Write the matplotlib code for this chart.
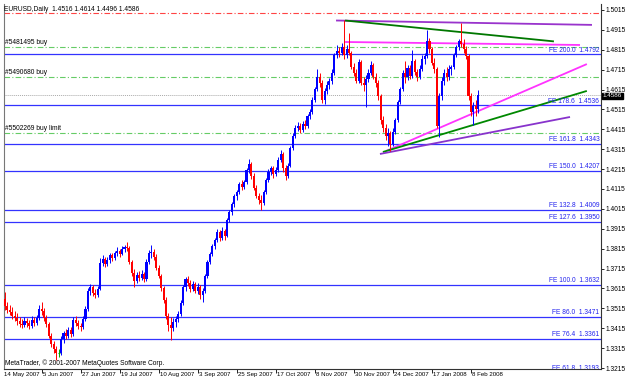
import matplotlib
matplotlib.use("Agg")
import matplotlib.pyplot as plt
import matplotlib.transforms as mtransforms

plt.rcParams['font.family'] = ['Liberation Sans', 'DejaVu Sans']

# ---------------- data (daily EURUSD bars, bar index 0 = 14 May 2007) ----------------
opens = [1.3520,1.3560,1.3525,1.3505,1.3495,1.3475,1.3465,1.3450,1.3435,1.3430,
         1.3450,1.3440,1.3425,1.3455,1.3440,1.3465,1.3510,1.3500,1.3465,1.3435,
         1.3375,1.3335,1.3310,1.3290,1.3290,1.3360,1.3390,1.3375,1.3405,1.3385,
         1.3455,1.3440,1.3425,1.3420,1.3460,1.3510,1.3600,1.3620,1.3590,1.3580,
         1.3610,1.3745,1.3765,1.3740,1.3760,1.3785,1.3770,1.3795,1.3805,1.3790,
         1.3815,1.3825,1.3820,1.3750,1.3695,1.3650,1.3685,1.3665,1.3690,1.3660,
         1.3750,1.3795,1.3800,1.3775,1.3720,1.3680,1.3615,1.3555,1.3475,1.3430,
         1.3415,1.3445,1.3460,1.3485,1.3540,1.3620,1.3660,1.3640,1.3610,1.3635,
         1.3600,1.3620,1.3580,1.3600,1.3680,1.3750,1.3790,1.3830,1.3860,1.3900,
         1.3870,1.3905,1.3880,1.3960,1.4000,1.4040,1.4080,1.4100,1.4140,1.4125,
         1.4150,1.4210,1.4240,1.4180,1.4120,1.4080,1.4060,1.4045,1.4100,1.4160,
         1.4200,1.4220,1.4190,1.4210,1.4260,1.4290,1.4220,1.4180,1.4230,1.4320,
         1.4380,1.4420,1.4430,1.4410,1.4440,1.4430,1.4480,1.4500,1.4560,1.4620,
         1.4680,1.4650,1.4560,1.4610,1.4640,1.4660,1.4700,1.4790,1.4810,1.4800,
         1.4830,1.4790,1.4820,1.4800,1.4730,1.4700,1.4660,1.4755,1.4650,1.4640,
         1.4670,1.4700,1.4740,1.4680,1.4650,1.4580,1.4460,1.4420,1.4380,1.4395,
         1.4340,1.4400,1.4460,1.4550,1.4620,1.4700,1.4680,1.4725,1.4685,1.4760,
         1.4705,1.4680,1.4720,1.4770,1.4785,1.4860,1.4820,1.4750,1.4720,1.4430,
         1.4580,1.4660,1.4700,1.4680,1.4720,1.4730,1.4790,1.4830,1.4860,1.4845,
         1.4820,1.4785,1.4580,1.4500,1.4530,1.4516]
highs = [1.3575,1.3595,1.3545,1.3530,1.3520,1.3500,1.3490,1.3470,1.3460,1.3470,
         1.3465,1.3455,1.3475,1.3470,1.3480,1.3530,1.3545,1.3515,1.3480,1.3445,
         1.3390,1.3350,1.3325,1.3310,1.3375,1.3400,1.3410,1.3420,1.3420,1.3470,
         1.3475,1.3455,1.3440,1.3475,1.3525,1.3615,1.3635,1.3630,1.3610,1.3625,
         1.3770,1.3785,1.3775,1.3775,1.3795,1.3795,1.3805,1.3825,1.3815,1.3830,
         1.3835,1.3850,1.3830,1.3760,1.3715,1.3700,1.3705,1.3710,1.3700,1.3765,
         1.3810,1.3835,1.3815,1.3790,1.3735,1.3690,1.3625,1.3570,1.3490,1.3470,
         1.3465,1.3475,1.3500,1.3555,1.3630,1.3675,1.3680,1.3655,1.3650,1.3645,
         1.3640,1.3630,1.3615,1.3690,1.3760,1.3800,1.3840,1.3870,1.3915,1.3910,
         1.3925,1.3915,1.3970,1.4010,1.4050,1.4090,1.4110,1.4150,1.4160,1.4160,
         1.4220,1.4265,1.4250,1.4195,1.4135,1.4095,1.4085,1.4110,1.4170,1.4215,
         1.4230,1.4230,1.4225,1.4275,1.4310,1.4300,1.4235,1.4245,1.4330,1.4395,
         1.4435,1.4450,1.4445,1.4455,1.4460,1.4490,1.4515,1.4575,1.4630,1.4720,
         1.4700,1.4665,1.4625,1.4660,1.4675,1.4720,1.4800,1.4840,1.4830,1.4850,
         1.4965,1.4840,1.4900,1.4810,1.4750,1.4720,1.4770,1.4765,1.4680,1.4690,
         1.4720,1.4760,1.4750,1.4700,1.4665,1.4595,1.4480,1.4440,1.4420,1.4405,
         1.4420,1.4470,1.4560,1.4630,1.4715,1.4760,1.4740,1.4740,1.4815,1.4770,
         1.4720,1.4740,1.4790,1.4800,1.4915,1.4875,1.4830,1.4775,1.4730,1.4600,
         1.4680,1.4720,1.4730,1.4740,1.4740,1.4800,1.4840,1.4870,1.4950,1.4870,
         1.4835,1.4795,1.4600,1.4550,1.4560,1.4614]
lows = [1.3505,1.3505,1.3490,1.3480,1.3460,1.3450,1.3430,1.3420,1.3415,1.3420,
        1.3420,1.3410,1.3415,1.3425,1.3430,1.3455,1.3480,1.3450,1.3420,1.3365,
        1.3320,1.3290,1.3255,1.3270,1.3280,1.3340,1.3360,1.3365,1.3370,1.3375,
        1.3425,1.3410,1.3400,1.3410,1.3450,1.3500,1.3580,1.3575,1.3565,1.3570,
        1.3605,1.3730,1.3725,1.3730,1.3745,1.3755,1.3760,1.3780,1.3775,1.3785,
        1.3800,1.3805,1.3740,1.3680,1.3620,1.3640,1.3650,1.3655,1.3645,1.3650,
        1.3740,1.3770,1.3760,1.3710,1.3665,1.3600,1.3540,1.3460,1.3400,1.3355,
        1.3400,1.3420,1.3445,1.3475,1.3530,1.3600,1.3625,1.3595,1.3600,1.3590,
        1.3585,1.3560,1.3545,1.3590,1.3670,1.3740,1.3780,1.3815,1.3850,1.3855,
        1.3860,1.3860,1.3875,1.3950,1.3985,1.4025,1.4060,1.4090,1.4110,1.4115,
        1.4140,1.4195,1.4165,1.4110,1.4070,1.4040,1.4010,1.4035,1.4090,1.4150,
        1.4185,1.4170,1.4180,1.4200,1.4250,1.4200,1.4160,1.4170,1.4225,1.4310,
        1.4370,1.4405,1.4395,1.4400,1.4415,1.4420,1.4465,1.4490,1.4550,1.4610,
        1.4630,1.4545,1.4540,1.4595,1.4620,1.4645,1.4690,1.4775,1.4780,1.4790,
        1.4770,1.4775,1.4790,1.4720,1.4685,1.4650,1.4650,1.4640,1.4610,1.4525,
        1.4655,1.4690,1.4670,1.4630,1.4560,1.4440,1.4400,1.4360,1.4330,1.4305,
        1.4330,1.4390,1.4450,1.4540,1.4610,1.4650,1.4665,1.4670,1.4675,1.4690,
        1.4660,1.4670,1.4710,1.4745,1.4775,1.4800,1.4740,1.4700,1.4420,1.4375,
        1.4560,1.4640,1.4660,1.4665,1.4690,1.4720,1.4780,1.4815,1.4830,1.4800,
        1.4770,1.4560,1.4480,1.4437,1.4480,1.4496]
closes = [1.3560,1.3525,1.3505,1.3495,1.3475,1.3465,1.3450,1.3435,1.3430,1.3450,
          1.3440,1.3425,1.3455,1.3440,1.3465,1.3510,1.3500,1.3465,1.3435,1.3375,
          1.3335,1.3310,1.3290,1.3290,1.3360,1.3390,1.3375,1.3405,1.3385,1.3455,
          1.3440,1.3425,1.3420,1.3460,1.3510,1.3600,1.3620,1.3590,1.3580,1.3610,
          1.3745,1.3765,1.3740,1.3760,1.3785,1.3770,1.3795,1.3805,1.3790,1.3815,
          1.3825,1.3820,1.3750,1.3695,1.3650,1.3685,1.3665,1.3690,1.3660,1.3750,
          1.3795,1.3800,1.3775,1.3720,1.3680,1.3615,1.3555,1.3475,1.3430,1.3415,
          1.3445,1.3460,1.3485,1.3540,1.3620,1.3660,1.3640,1.3610,1.3635,1.3600,
          1.3620,1.3580,1.3600,1.3680,1.3750,1.3790,1.3830,1.3860,1.3900,1.3870,
          1.3905,1.3880,1.3960,1.4000,1.4040,1.4080,1.4100,1.4140,1.4125,1.4150,
          1.4210,1.4240,1.4180,1.4120,1.4080,1.4060,1.4045,1.4100,1.4160,1.4200,
          1.4220,1.4190,1.4210,1.4260,1.4290,1.4220,1.4180,1.4230,1.4320,1.4380,
          1.4420,1.4430,1.4410,1.4440,1.4430,1.4480,1.4500,1.4560,1.4620,1.4680,
          1.4650,1.4560,1.4610,1.4640,1.4660,1.4700,1.4790,1.4810,1.4800,1.4830,
          1.4790,1.4820,1.4800,1.4730,1.4700,1.4660,1.4755,1.4650,1.4640,1.4670,
          1.4700,1.4740,1.4680,1.4650,1.4580,1.4460,1.4420,1.4380,1.4395,1.4340,
          1.4400,1.4460,1.4550,1.4620,1.4700,1.4680,1.4725,1.4685,1.4760,1.4705,
          1.4680,1.4720,1.4770,1.4785,1.4860,1.4820,1.4750,1.4720,1.4430,1.4580,
          1.4660,1.4700,1.4680,1.4720,1.4730,1.4790,1.4830,1.4860,1.4845,1.4820,
          1.4785,1.4580,1.4500,1.4530,1.4516,1.4586]

date_labels = ["14 May 2007", "5 Jun 2007", "27 Jun 2007", "19 Jul 2007", "10 Aug 2007",
               "3 Sep 2007", "25 Sep 2007", "17 Oct 2007", "8 Nov 2007", "30 Nov 2007",
               "24 Dec 2007", "17 Jan 2008", "8 Feb 2008"]
date_bars = [0, 16, 32, 48, 64, 80, 96, 112, 128, 144, 160, 176, 192]

price_ticks = [1.5015, 1.4915, 1.4815, 1.4715, 1.4615, 1.4515, 1.4415, 1.4315, 1.4215, 1.4115,
               1.4015, 1.3915, 1.3815, 1.3715, 1.3615, 1.3515, 1.3415, 1.3315, 1.3215]

fe_levels = ["200.0", "178.6", "161.8", "150.0", "132.8", "127.6", "100.0", "86.0", "76.4", "61.8"]
fe_prices = [1.4792, 1.4536, 1.4343, 1.4207, 1.4009, 1.3950, 1.3632, 1.3471, 1.3361, 1.3193]

order_labels = ["#5481495 buy", "#5490680 buy", "#5502269 buy limit"]
order_prices = [1.4830, 1.4678, 1.4397]
target_price = 1.5000
bid_price = 1.4586
title = "EURUSD,Daily  1.4516 1.4614 1.4496 1.4586"

# trend lines: (bar0, price0, bar1, price1)
trend_lines = [
    (136.7, 1.4962, 241.6, 1.4940),   # purple top
    (140.4, 1.4962, 226.0, 1.4857),   # green top
    (140.4, 1.4854, 236.7, 1.4839),   # magenta top
    (157.2, 1.4306, 239.5, 1.4743),   # magenta rising
    (155.9, 1.4301, 239.5, 1.4608),   # green rising
    (154.7, 1.4291, 232.6, 1.4477),   # purple rising
]
trend_colors = ["#9933cc", "#007700", "#ff33ff", "#ff33ff", "#008800", "#8833cc"]

# ---------------- figure ----------------
W, H = 625, 380
fig = plt.figure(figsize=(W / 100, H / 100), dpi=100, facecolor="white")
ax = fig.add_axes([4 / W, 1 - 369 / H, (601 - 4) / W, (369 - 4) / H])
ax.set_facecolor("white")
ax.set_xlim(0.6, 245.3)
ax.set_ylim(1.3210, 1.5045)

FS = 4.8
FSD = 4.4

# horizontal lines
for lvl, p in zip(fe_levels, fe_prices):
    ax.axhline(p, color="#3333ff", lw=0.9, zorder=1)
    ax.text(244.6, p + 0.0003, f"FE {lvl}  {p:.4f}", color="#2222ee", fontsize=FS,
            ha="right", va="bottom", zorder=5, clip_on=True)
for lab, p in zip(order_labels, order_prices):
    ax.axhline(p, color="#66cc66", lw=0.8, dashes=(5, 2, 1, 2), zorder=1)
    ax.text(1.0, p + 0.0004, lab, color="black", fontsize=FS, ha="left", va="bottom", zorder=5)
ax.axhline(target_price, color="#ff4444", lw=0.8, dashes=(5, 2, 1, 2), zorder=1)
ax.axhline(bid_price, color="#aaaaaa", lw=0.7, ls=(0, (1, 1)), zorder=1)

# trend lines
for (b0, p0, b1, p1), c in zip(trend_lines, trend_colors):
    ax.plot([b0, b1], [p0, p1], color=c, lw=1.3, zorder=3, solid_capstyle="butt")

# candles
for i, (o, h, l, c) in enumerate(zip(opens, highs, lows, closes)):
    if c > o:
        col = "#0000ff"
    elif c < o:
        col = "#ff0000"
    else:
        col = "#00aa00"
    ax.vlines(i, l, h, color=col, lw=0.7, zorder=4)
    if c != o:
        ax.bar(i, c - o, bottom=o, width=0.85, color=col, linewidth=0, zorder=4)
    else:
        ax.hlines(o, i - 0.45, i + 0.45, color=col, lw=0.8, zorder=4)

# texts
ax.text(0.8, 1.5045 - 0.0012, title, fontsize=FS, ha="left", va="top", color="black")
ax.text(0.9, 1.3210 + 0.0008, "MetaTrader, \u00a9 2001-2007 MetaQuotes Software Corp.",
        fontsize=FS, ha="left", va="bottom", color="black")

# right price axis
ax.yaxis.tick_right()
ax.set_yticks(price_ticks)
ax.set_yticklabels([f"{t:.4f}" for t in price_ticks])
ax.tick_params(axis="y", right=True, left=False, length=2, width=0.6, pad=1.5,
               labelsize=FS, colors="black")
ax.text(1.003, bid_price - 0.0003, f"{bid_price:.4f}",
        transform=mtransforms.blended_transform_factory(ax.transAxes, ax.transData),
        fontsize=FS - 0.3, color="white", ha="left", va="center",
        bbox=dict(boxstyle="square,pad=0.08", fc="black", ec="black"), zorder=10, clip_on=False)

# bottom date axis
ax.set_xticks([b for b in date_bars if b >= 0.6])
ax.set_xticklabels([])
ax.tick_params(axis="x", length=3, width=0.6, direction="out", colors="black")
tr = mtransforms.blended_transform_factory(ax.transData, ax.transAxes)
for b, lab in zip(date_bars, date_labels):
    ax.text(b + 0.4, -0.008, lab, transform=tr, fontsize=FSD, ha="left", va="top",
            clip_on=False, color="black")

ax.spines["top"].set_visible(False)
ax.spines["left"].set_color("#777777")
ax.spines["right"].set_color("#333333")
ax.spines["bottom"].set_color("#333333")
for s in ["left", "right", "bottom"]:
    ax.spines[s].set_linewidth(0.8)

fig.savefig("out.png", dpi=100, facecolor="white")
